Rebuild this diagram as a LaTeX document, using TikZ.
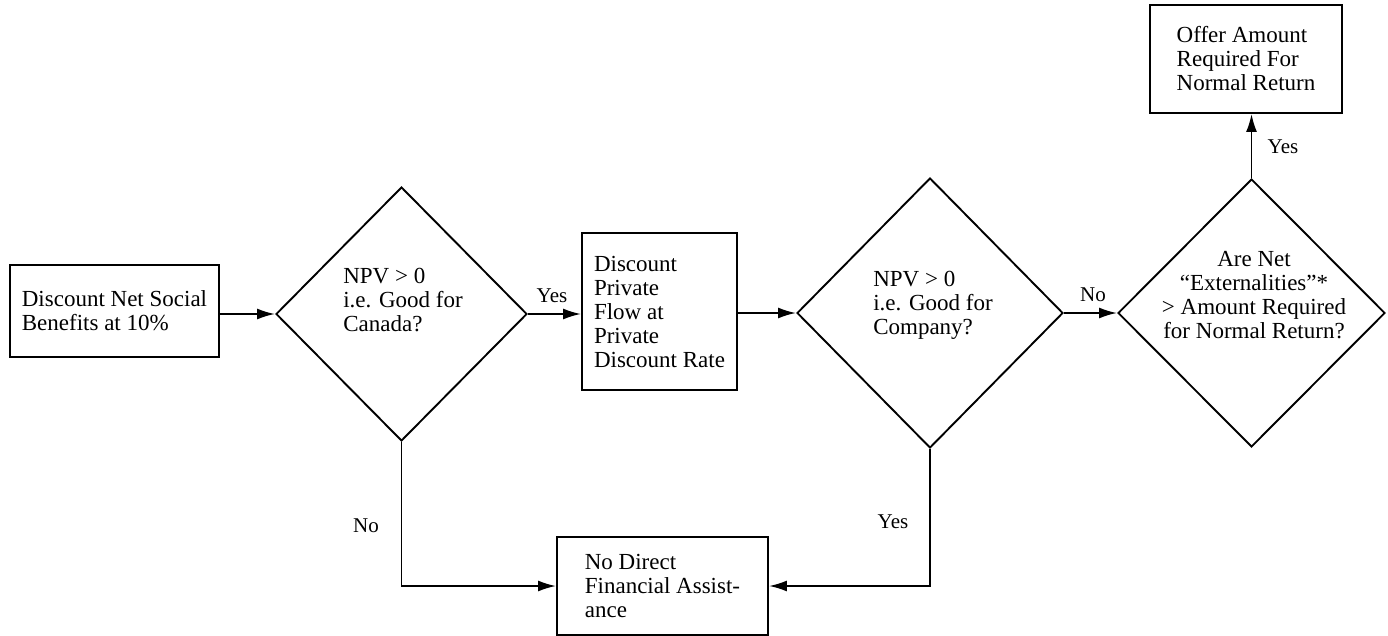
\documentclass[tikz,border=0pt]{standalone}
\usepackage{fontspec}
\setmainfont{Liberation Serif}
\usetikzlibrary{shapes.geometric,arrows.meta}
\begin{document}
\begin{tikzpicture}[x=1pt,y=-1pt,
  every node/.style={font=\fontsize{23}{24}\selectfont},
  boxnode/.style={draw,line width=1.9pt,align=left,inner sep=0pt},
  dianode/.style={draw,diamond,line width=1.9pt,inner sep=0pt},
  dtext/.style={align=left,inner sep=0pt},
  arr/.style={line width=1.9pt,-{Latex[length=18pt,width=11pt]}},
  lbl/.style={inner sep=0pt,font=\fontsize{21}{22}\selectfont}]
\useasboundingbox[fill=white] (0,0) rectangle (1388,636);
% boxes
\node[boxnode,minimum width=209pt,minimum height=92pt] (b1) at (114.5,311) {Discount Net Social\\Benefits at 10\%};
\node[boxnode,minimum width=155pt,minimum height=157pt] (b2) at (659.5,311.5) {Discount\\Private\\Flow at\\Private\\Discount Rate};
\node[boxnode,minimum width=211pt,minimum height=98pt] (b3) at (662.5,586) {No Direct\\Financial Assist-\\ance};
\node[boxnode,minimum width=192pt,minimum height=108pt] (b4) at (1246,59) {Offer Amount\\Required For\\Normal Return};
% diamonds
\node[dianode,minimum width=251pt,minimum height=254pt] (d1) at (401.5,314) {};
\node[dtext] (t1) at (403,300) {NPV > 0\\i.e. Good for\\Canada?};
\node[dianode,minimum width=266pt,minimum height=270pt] (d2) at (930,313) {};
\node[dtext] (t2) at (933,305) {NPV > 0\\i.e. Good for\\Company?};
\node[dianode,minimum width=267pt,minimum height=268pt] (d3) at (1251.5,313) {};
\node[dtext,align=center] (t3) at (1254,295) {Are Net\\``Externalities''*\\> Amount Required\\for Normal Return?};
% connectors
\draw[arr] (b1.east |- d1.west) -- (d1.west);
\draw[arr] (d1.east) -- (d1.east -| b2.west);
\draw[arr] (b2.east |- d2.west) -- (d2.west);
\draw[arr] (d2.east) -- (d3.west);
\draw[arr] (d3.north) -- (d3.north |- b4.south);
\draw[arr] (d1.south) |- (b3.west);
\draw[arr] (d2.south) |- (b3.east);
% labels
\node[lbl] (l1) at (552,296) {Yes};
\node[lbl] (l2) at (1093,295) {No};
\node[lbl] (l3) at (1283,147) {Yes};
\node[lbl] (l4) at (366,526) {No};
\node[lbl] (l5) at (893,522) {Yes};
\end{tikzpicture}
\end{document}
